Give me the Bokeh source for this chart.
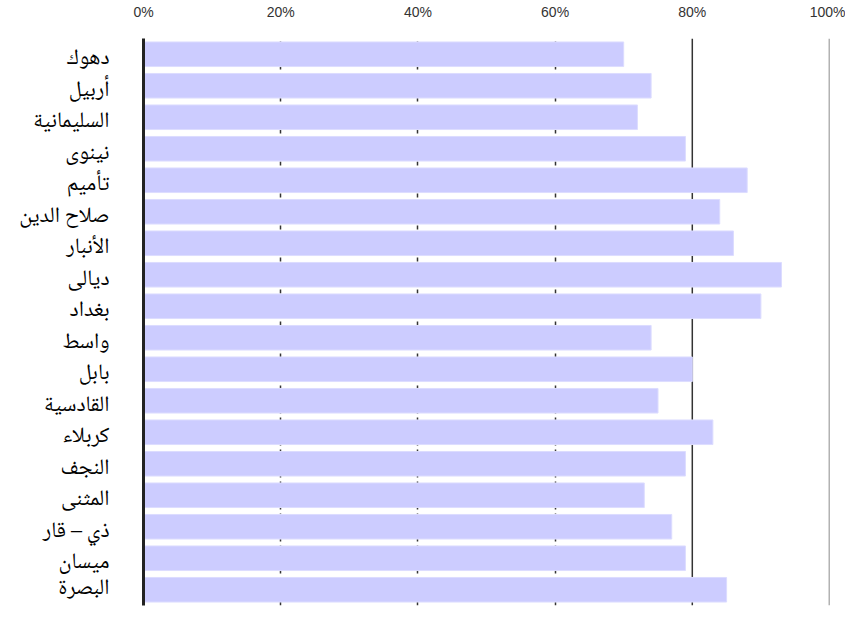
from bokeh.plotting import figure
from bokeh.models import (Range1d, Span, FixedTicker, CustomJSTickFormatter,
                          ColumnDataSource, LinearAxis)
from bokeh.embed import file_html
from bokeh.resources import INLINE

provinces = ["دهوك", "أربيل", "السليمانية", "نينوى", "تأميم", "صلاح الدين",
             "الأنبار", "ديالى", "بغداد", "واسط", "بابل", "القادسية",
             "كربلاء", "النجف", "المثنى", "ذي – قار", "ميسان", "البصرة"]
values = [70, 74, 72, 79, 88, 84, 86, 93, 90, 74, 80, 75, 83, 79, 73, 77, 79, 85]
tick_values = [0, 20, 40, 60, 80, 100]

n = len(provinces)
rank = [n - 0.5 - i for i in range(n)]          # first province at the top
src = ColumnDataSource(dict(prov=provinces, val=values, pos=rank))

p = figure(width=845, height=607, output_backend="svg", toolbar_location=None,
           y_range=Range1d(0, n), x_range=Range1d(0, 100),
           x_axis_location="above", y_axis_location=None,
           min_border_left=143, min_border_right=16, min_border_top=29, min_border_bottom=2)
p.outline_line_color = None
p.background_fill_color = "white"

p.hbar(y="pos", right="val", left=0, height=0.78, source=src,
       fill_color="#ccccff", line_color="#dcdcff", line_width=1)

# x axis (top)
ax = p.xaxis[0]
ax.ticker = FixedTicker(ticks=tick_values)
ax.formatter = CustomJSTickFormatter(code="return tick + '%';")
ax.axis_line_color = None
ax.major_tick_line_color = None
ax.minor_tick_line_color = None
ax.major_label_standoff = 13
ax.major_label_text_font = "Liberation Sans"
ax.major_label_text_font_size = "14px"
ax.major_label_text_color = "#333333"

# label axis on a slightly shifted range (labels sit a little below bar centres)
shift = 0.16
p.extra_y_ranges = {"lab": Range1d(shift, n + shift)}
ay = LinearAxis(y_range_name="lab")
ay.ticker = FixedTicker(ticks=rank, minor_ticks=[])
ay.formatter = CustomJSTickFormatter(args=dict(names=provinces, n=n),
                                     code="return names[Math.round(n - 0.5 - tick)];")
ay.axis_line_width = 3
ay.axis_line_color = "#222222"
ay.major_tick_line_color = None
ay.minor_tick_line_color = None
ay.major_label_standoff = 28
ay.major_label_text_font = "'Noto Naskh Arabic', 'Noto Sans Arabic', 'Liberation Sans', sans-serif"
ay.major_label_text_font_size = "22px"
ay.major_label_text_color = "black"
p.add_layout(ay, "left")

# grid
p.ygrid.grid_line_color = None
p.xgrid.ticker = FixedTicker(ticks=[20, 40, 60])
p.xgrid.grid_line_color = "#333333"
p.xgrid.grid_line_width = 1.5
p.xgrid.grid_line_dash = "4 4"

for t, c in [(80, "#333333"), (100, "#666666")]:
    p.add_layout(Span(location=t, dimension="height", line_color=c, line_width=1.5, level="underlay"))

open("out.html", "w").write(file_html(p, INLINE))
